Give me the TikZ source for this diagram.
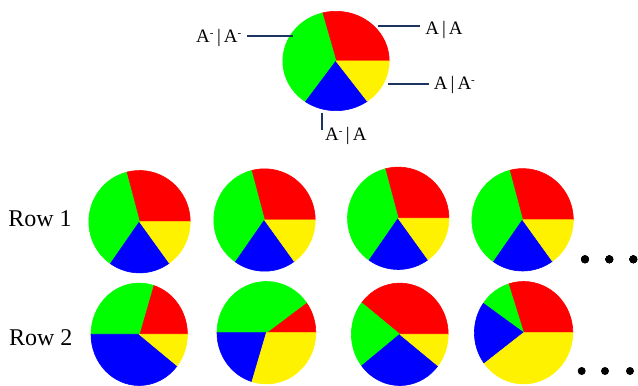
\documentclass[tikz,border=0pt]{standalone}
\usepackage{fontspec}
\setmainfont{Liberation Serif}
\usetikzlibrary{positioning}
\definecolor{leaderblue}{RGB}{28,52,96}
\newcommand{\msup}{\textsuperscript{\fontsize{11}{11}\selectfont -}}
\newcommand{\sepbar}{\kern3pt|\kern3pt}
% one pie: centre, x radius, y radius, list of start/end/colour
\newcommand{\drawpie}[4]{%
  \foreach \a/\b/\col in {#4}
    \filldraw[\col, line width=0.6pt, line join=round] (#1) -- ++(\a:#2 and #3) arc[start angle=\a, end angle=\b, x radius=#2, y radius=#3] -- cycle;
}
\tikzset{
  leader/.style={draw=leaderblue, line width=2pt},
  gtlabel/.style={font=\fontsize{19}{19}\selectfont, inner sep=5pt, anchor=base},
  rowlabel/.style={font=\fontsize{24}{24}\selectfont, anchor=base},
  dot/.style={circle, fill=black, inner sep=0pt, minimum size=8pt},
}
\begin{document}
\begin{tikzpicture}[x=1pt, y=1pt]
\useasboundingbox (0,0) rectangle (638,386);

% key pie
\drawpie{336,325}{53.2pt}{49.7pt}{0/105/red, 105/235/green, 235/306/blue, 306/360/yellow}
\coordinate (aa-pie) at (377.7,360);
\coordinate (am-pie) at (388.3,301.7);
\coordinate (mm-pie) at (293.3,350.3);
\coordinate (ma-pie) at (321.7,273.3);
\node[gtlabel] (lbl-aa) at (444,351.7) {A\sepbar A};
\node[gtlabel] (lbl-am) at (454.7,296.7) {A\sepbar A\msup};
\node[gtlabel] (lbl-mm) at (219,343.7) {A\msup\sepbar A\msup};
\node[gtlabel] (lbl-ma) at (345.8,245.3) {A\msup\sepbar A};
\draw[leader] (aa-pie) -- (aa-pie -| lbl-aa.west);
\draw[leader] (am-pie) -- (am-pie -| lbl-am.west);
\draw[leader] (mm-pie) -- (mm-pie -| lbl-mm.east);
\draw[leader] (ma-pie) -- ++(0,-17.3);

% row 1
\node[rowlabel] (row1) at (40,159.3) {Row 1};
\foreach \px/\py in {139.5/164.3, 264.5/166, 398.2/167.7, 522.6/166.2}
  \drawpie{\px,\py}{50.7pt}{51.2pt}{0/105/red, 105/235/green, 235/306/blue, 306/360/yellow}
\foreach \i/\dx in {1/585, 2/609.3, 3/633.3}
  \node[dot] (dots1-\i) at (\dx,126.7) {};

% row 2
\node[rowlabel] (row2) at (40.8,40.3) {Row 2};
\drawpie{139.2,51.7}{48.2pt}{51.2pt}{0/73/red, 73/180/green, 180/322/blue, 322/360/yellow}
\drawpie{266.4,53.3}{49.4pt}{51.2pt}{0/36/red, 36/180/green, 180/253/blue, 253/360/yellow}
\drawpie{399.8,51.7}{48.4pt}{51.2pt}{0/142/red, 142/218/green, 218/322/blue, 322/360/yellow}
\drawpie{523.6,53.3}{49.2pt}{51.2pt}{0/108/red, 108/145/green, 145/217/blue, 217/360/yellow}
\foreach \i/\dx in {1/581.7, 2/605, 3/630}
  \node[dot] (dots2-\i) at (\dx,15) {};
\end{tikzpicture}
\end{document}
